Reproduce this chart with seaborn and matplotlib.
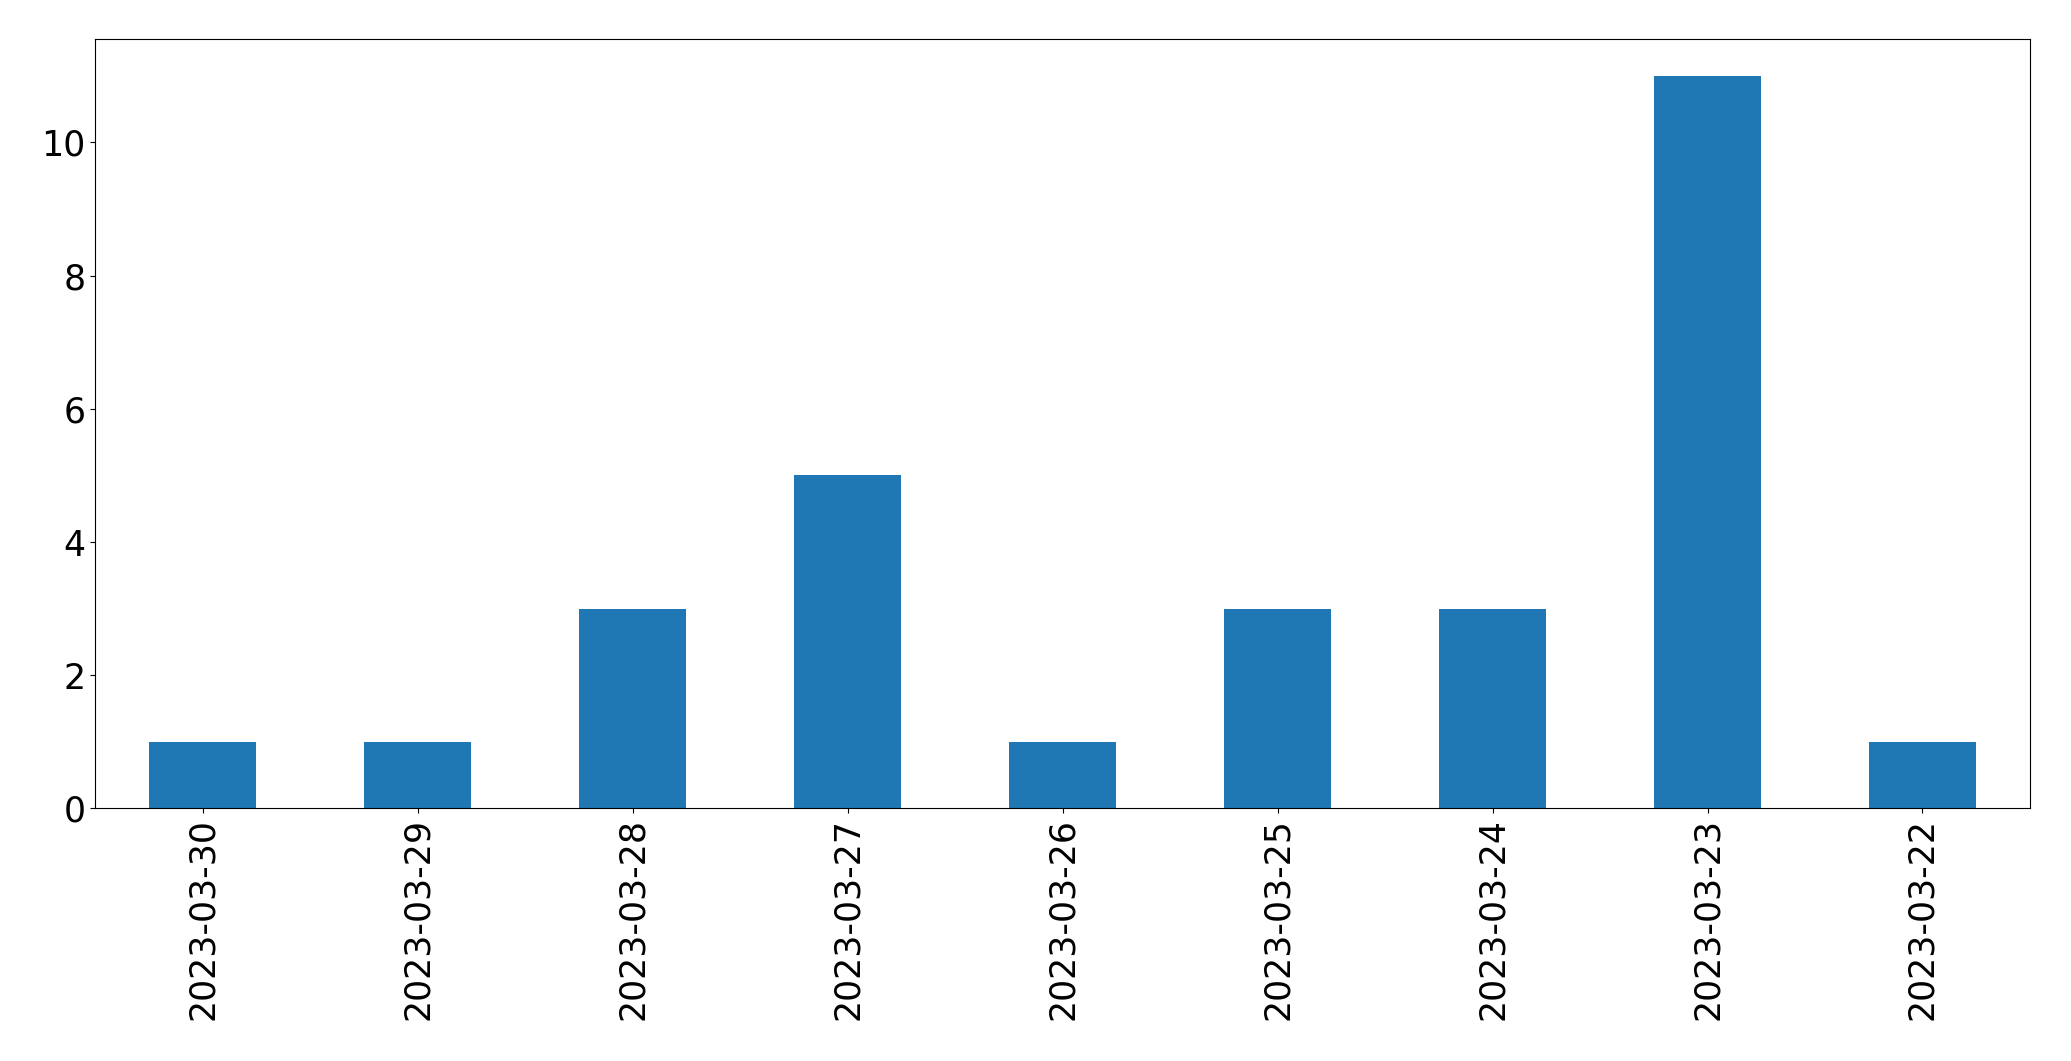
# bar chart of counts per day
import pandas as pd
import matplotlib
matplotlib.use('Agg')
import matplotlib.pyplot as plt
import seaborn as sns

# data
dates = ['2023-03-30', '2023-03-29', '2023-03-28', '2023-03-27', '2023-03-26',
         '2023-03-25', '2023-03-24', '2023-03-23', '2023-03-22']
counts = [1, 1, 3, 5, 1, 3, 3, 11, 1]

df = pd.DataFrame({'date': dates, 'count': counts})

sns.set_style('white')
plt.rcParams['font.family'] = ['DejaVu Sans']

fig = plt.figure(figsize=(20.71, 10.61), dpi=100)
ax = fig.add_axes([0.0459, 0.238, 0.9343, 0.725])

sns.barplot(data=df, x='date', y='count', color='#1f77b4', saturation=1,
            width=0.5, linewidth=0, ax=ax)

ax.set_xlim(-0.5, len(dates) - 0.5)
ax.set_ylim(0, 11.55)
ax.set_xlabel('')
ax.set_ylabel('')
ax.tick_params(axis='x', labelsize=25, labelcolor='black', rotation=90,
               length=3.5, width=0.8, color='black', bottom=True)
ax.tick_params(axis='y', labelsize=25, labelcolor='black',
               length=3.5, width=0.8, color='black', left=True)
for s in ax.spines.values():
    s.set_color('black')
    s.set_linewidth(0.8)

fig.savefig('out.png', dpi=100)
